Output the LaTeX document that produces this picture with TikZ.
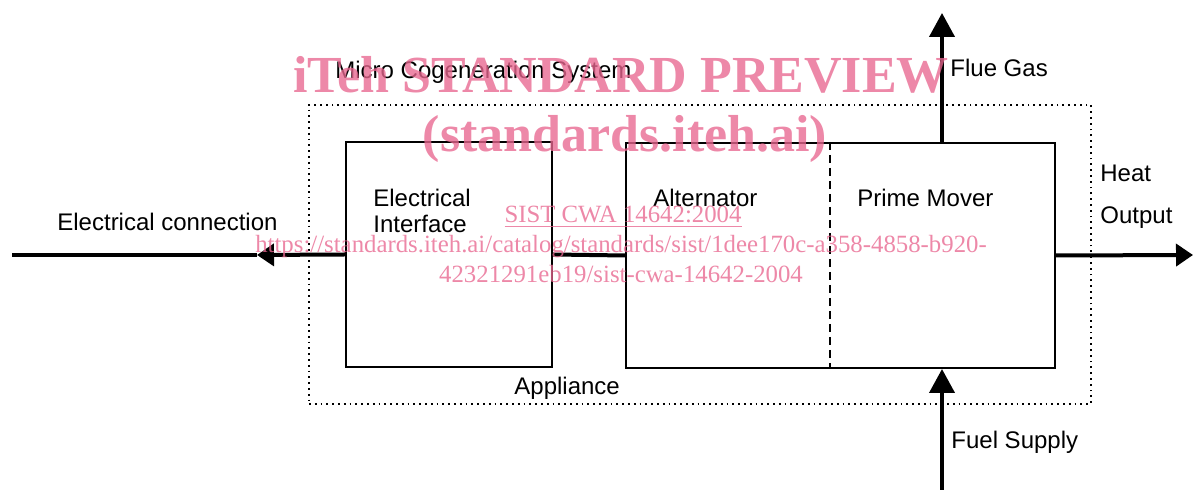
\documentclass[tikz,border=0pt]{standalone}
\usepackage{fontspec}
\setmainfont{Liberation Sans}
\newfontfamily\wmfont{Liberation Serif}
\usetikzlibrary{arrows.meta}
\definecolor{diagink}{HTML}{000000}
\definecolor{wmpink}{HTML}{E8668F}

\begin{document}
\begin{tikzpicture}[
  x=0.5pt,
  y=-0.5pt,
  every node/.style={font=\fontsize{12}{13}\selectfont, diagink, inner sep=0pt},
  box/.style={draw, line width=1pt, minimum width=#1, minimum height=112.5pt},
  outline/.style={draw, line width=0.9pt, dotted, minimum width=391pt, minimum height=149.5pt},
  divider/.style={line width=0.8pt, dash pattern=on 4pt off 2.5pt},
  flow/.style={line width=2pt},
  uptip/.style={-{Triangle[length=12pt, width=12.5pt]}},
  sidetip/.style={-{Triangle[length=8.5pt, width=11pt]}},
  watermark/.style={wmpink, opacity=0.78, anchor=base},
  wmbig/.style={watermark, font=\wmfont\bfseries\fontsize{26}{28}\selectfont},
  wmsmall/.style={watermark, font=\wmfont\fontsize{12.4}{13}\selectfont}
]
  % ---- page frame ----
  \useasboundingbox (0,0) rectangle (1193,490);

  % ---- appliance outline and blocks ----
  \node[outline] (appliance) at (700,254.5) {};
  \node[box=103pt] (iface) at (449,254.5) {};
  \node[box=214.5pt] (unit) at (840.5,255.5) {};
  \draw[divider] (unit.north -| 830,0) -- (unit.south -| 830,0);

  % ---- free ends of the flows ----
  \coordinate (gridend) at (12,255);
  \coordinate (gridtip) at (257,255);
  \coordinate (heatend) at (1193,255);
  \coordinate (fluetop) at (942,13);
  \coordinate (fuelend) at (942,490);

  % ---- flows ----
  \draw[flow] (iface.east) -- (unit.west);
  \draw[flow, sidetip] (iface.west) -- (gridtip);
  \draw[flow] (gridtip) -- (gridend);
  \draw[flow, sidetip] (unit.east) -- (heatend);
  \draw[flow, uptip] (unit.north -| fluetop) -- (fluetop);
  \draw[flow, uptip] (fuelend) -- (unit.south -| fuelend);

  % ---- labels ----
  \node[anchor=base west] (systemlabel) at (335,79) {Micro Cogeneration System};
  \node[anchor=base west] (fluelabel) at (950,77) {Flue Gas};
  \node[anchor=base west] (gridlabel) at (57,231) {Electrical connection};
  \node[anchor=base west] (ifacelabel1) at (373,207) {Electrical};
  \node[anchor=base west] (ifacelabel2) at (373,233) {Interface};
  \node[anchor=base west] (altlabel) at (653,207) {Alternator};
  \node[anchor=base west] (moverlabel) at (857,207) {Prime Mover};
  \node[anchor=base west] (heatlabel1) at (1100,182) {Heat};
  \node[anchor=base west] (heatlabel2) at (1100,224) {Output};
  \node[anchor=base west] (appliancelabel) at (514,395) {Appliance};
  \node[anchor=base west] (fuellabel) at (951,449) {Fuel Supply};

  % ---- preview watermark ----
  \node[wmbig] (wmtitle) at (621,93) {iTeh STANDARD PREVIEW};
  \node[wmbig] (wmsite) at (625,152) {(standards.iteh.ai)};
  \node[wmsmall] (wmref) at (623,223) {\underline{SIST CWA 14642:2004}};
  \node[wmsmall] (wmurl1) at (621,253)
    {https://standards.iteh.ai/catalog/standards/sist/1dee170c-a358-4858-b920-};
  \node[wmsmall] (wmurl2) at (621,283) {42321291eb19/sist-cwa-14642-2004};
\end{tikzpicture}
\end{document}
